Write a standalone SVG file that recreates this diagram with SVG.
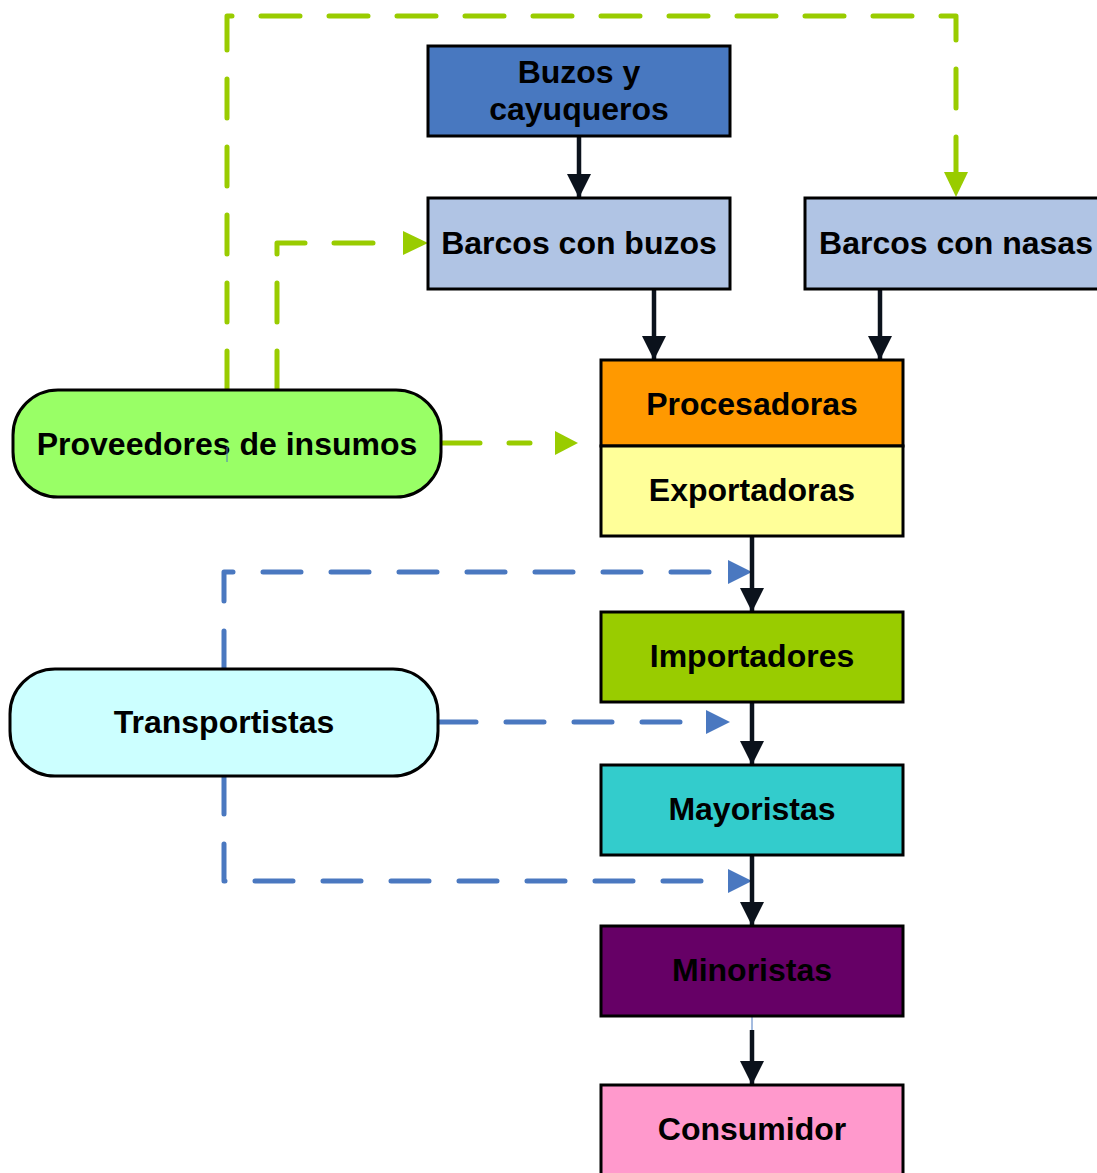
<svg xmlns="http://www.w3.org/2000/svg" width="1097" height="1173" viewBox="0 0 1097 1173">
<defs>
<style>
.box{stroke:#000;stroke-width:3}
.t{font-family:"Liberation Sans",Arial,sans-serif;font-weight:bold;font-size:32px;fill:#000;text-anchor:middle}
.solid{fill:none;stroke:#0B121C;stroke-width:4.5}
.g{fill:none;stroke:#99CC00;stroke-width:5;stroke-dasharray:39 29;stroke-linecap:round;stroke-linejoin:round}
.b{fill:none;stroke:#4A78C0;stroke-width:5;stroke-dasharray:38 30;stroke-linecap:round;stroke-linejoin:round}
</style>
<marker id="ak" markerUnits="userSpaceOnUse" markerWidth="24" markerHeight="24" viewBox="0 0 24 24" refX="24" refY="12" orient="auto"><path d="M0,0 L24,12 L0,24 Z" fill="#0B121C"/></marker>
</defs>
<rect width="1097" height="1173" fill="#fff"/>
<g id="connectors">
<path class="g" d="M227,390 V16 H956 V172"/>
<path d="M944,172 L956,197 L968,172 Z" fill="#99CC00"/>
<path class="g" d="M277,390 V243 H400"/>
<path d="M403,231 L428,243 L403,255 Z" fill="#99CC00"/>
<path class="g" d="M441,443 H530"/>
<path d="M555,431 L578,443 L555,455 Z" fill="#99CC00"/>
<path class="b" d="M224,669 V572 H720"/>
<path d="M728,560 L752,572 L728,584 Z" fill="#4A78C0"/>
<path class="b" d="M438,722 H700"/>
<path d="M706,710 L730,722 L706,734 Z" fill="#4A78C0"/>
<path class="b" d="M224,776 V881 H720"/>
<path d="M728,869 L752,881 L728,893 Z" fill="#4A78C0"/>
<path class="solid" d="M579,136 V198" marker-end="url(#ak)"/>
<path class="solid" d="M654,289 V360" marker-end="url(#ak)"/>
<path class="solid" d="M880,289 V360" marker-end="url(#ak)"/>
<path class="solid" d="M752,536 V612" marker-end="url(#ak)"/>
<path class="solid" d="M752,702 V765" marker-end="url(#ak)"/>
<path class="solid" d="M752,855 V926" marker-end="url(#ak)"/>
<path d="M752,1016 V1030" stroke="#4A78C0" stroke-width="1"/>
<path class="solid" d="M752,1030 V1085" marker-end="url(#ak)"/>
</g>
<g id="buzos"><rect class="box" x="428" y="46" width="302" height="90" fill="#4878C0"/><text class="t" x="579" y="83">Buzos y</text><text class="t" x="579" y="120">cayuqueros</text></g>
<g id="barcos-buzos"><rect class="box" x="428" y="198" width="302" height="91" fill="#B0C4E4"/><text class="t" x="579" y="254">Barcos con buzos</text></g>
<g id="barcos-nasas"><rect class="box" x="805" y="198" width="300" height="91" fill="#B0C4E4"/><text class="t" x="956" y="254">Barcos con nasas</text></g>
<g id="procesadoras"><rect class="box" x="601" y="360" width="302" height="86" fill="#FF9900"/><text class="t" x="752" y="415">Procesadoras</text></g>
<g id="exportadoras"><rect class="box" x="601" y="446" width="302" height="90" fill="#FFFF99"/><text class="t" x="752" y="501">Exportadoras</text></g>
<g id="importadores"><rect class="box" x="601" y="612" width="302" height="90" fill="#99CC00"/><text class="t" x="752" y="667">Importadores</text></g>
<g id="mayoristas"><rect class="box" x="601" y="765" width="302" height="90" fill="#33CCCC"/><text class="t" x="752" y="820">Mayoristas</text></g>
<g id="minoristas"><rect class="box" x="601" y="926" width="302" height="90" fill="#660066"/><text class="t" x="752" y="981">Minoristas</text></g>
<g id="consumidor"><rect class="box" x="601" y="1085" width="302" height="100" fill="#FF99CC"/><text class="t" x="752" y="1140">Consumidor</text></g>
<g id="proveedores"><rect class="box" x="13" y="390" width="428" height="107" rx="45" fill="#99FF66"/><text class="t" x="227" y="455">Proveedores de insumos</text><path d="M227,447 V462" stroke="#4A78C0" stroke-width="1"/></g>
<g id="transportistas"><rect class="box" x="10" y="669" width="428" height="107" rx="45" fill="#CCFFFF"/><text class="t" x="224" y="733">Transportistas</text></g>
</svg>
